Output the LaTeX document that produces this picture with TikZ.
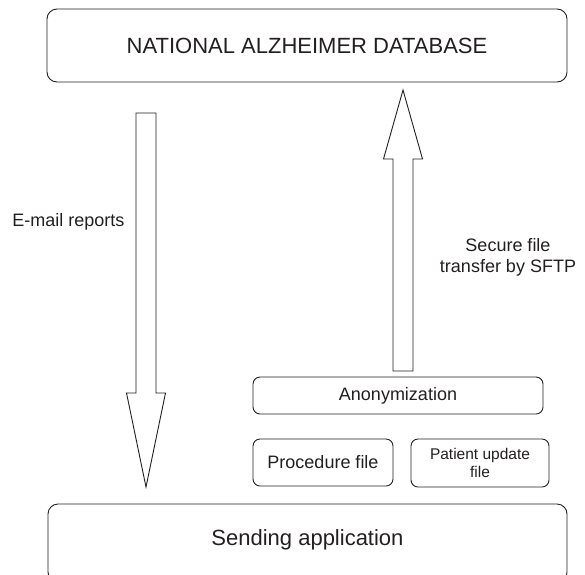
\documentclass[tikz,border=0pt]{standalone}
\usepackage{fontspec}
\setmainfont{Liberation Sans}
\usepackage{tikz}
\usetikzlibrary{arrows}

\definecolor{ink}{HTML}{231F20}

\tikzset{
	box/.style={draw=ink, line width=0.9pt, rounded corners=10pt, inner sep=0pt, align=center, text=ink},
	smallbox/.style={box, rounded corners=7pt},
	label/.style={align=center, text=ink, inner sep=0pt},
	blockarrow/.style={draw=ink, line width=0.9pt, fill=white, line join=miter},
	big/.style={font=\fontsize{22}{26}\selectfont},
	mid/.style={font=\fontsize{18}{21}\selectfont},
	tiny/.style={font=\fontsize{15.5}{18}\selectfont},
}

\begin{document}
\begin{tikzpicture}[x=1pt,y=-1pt]
		\useasboundingbox (0,0) rectangle (585,574);
%		\draw[help lines] (0,0) grid[step=50] (585,574);
		\path (146,113) coordinate (mail_top);
		\path (146,487) coordinate (mail_tip);
		\path (403,371) coordinate (sftp_bot);
		\path (403,90) coordinate (sftp_tip);

		\node[box, big, minimum width=520pt, minimum height=73pt] (db) at (307,45.5)
			{NATIONAL ALZHEIMER DATABASE};
		\node[box, big, minimum width=519pt, minimum height=78pt, text depth=10pt] (app) at (307.5,543)
			{Sending application};

		\node[smallbox, mid, minimum width=290pt, minimum height=37pt] (anon) at (398,395.5)
			{Anonymization};
		\node[smallbox, mid, minimum width=140pt, minimum height=47pt] (proc) at (323,462.5)
			{Procedure file};
		\node[smallbox, tiny, minimum width=138pt, minimum height=48pt] (pat) at (480,463)
			{Patient update\\file};

		% down: reports to the sending application
		\draw[blockarrow] (mail_top) ++(-10,0) -- ++(0,280) -- ++(-9.5,0) -- (mail_tip)
			-- ++(19.5,-94) -- ++(-9.5,0) -- ++(0,-280) -- cycle;
		\node[label, mid] (mail) at (68.5,222) {E-mail reports};

		% up: anonymized files to the database
		\draw[blockarrow] (sftp_bot) ++(-10,0) -- ++(0,-212) -- ++(-9.5,0) -- (sftp_tip)
			-- ++(19.5,69) -- ++(-9.5,0) -- ++(0,212) -- cycle;
		\node[label, mid] (sftp) at (508,257) {Secure file\\transfer by SFTP};

	\end{tikzpicture}
\end{document}
